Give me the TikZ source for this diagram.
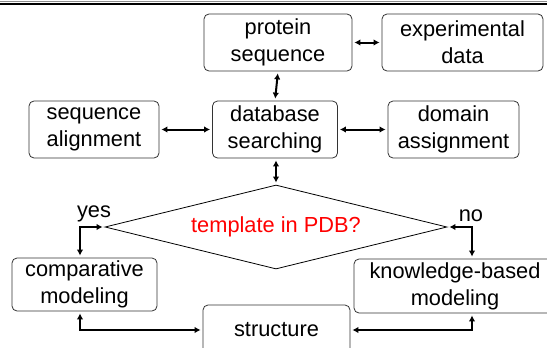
\documentclass[tikz,border=0pt]{standalone}
\usepackage{fontspec}
\setmainfont{Liberation Sans}
\usetikzlibrary{arrows.meta,shapes.geometric}
\begin{document}
\begin{tikzpicture}[x=1pt,y=-1pt,
  txt/.style={font=\fontsize{21.8}{27}\selectfont},
  box/.style={txt, draw=black!80, line width=0.8pt, rounded corners=5pt, align=center, inner sep=0pt},
  conn/.style={line width=2pt, {Latex[length=6pt,width=6.5pt]}-{Latex[length=6pt,width=6.5pt]}, shorten <=2pt, shorten >=2pt},
  lbl/.style={txt, inner sep=0pt}]
\useasboundingbox (0,0) rectangle (547,348);
\draw[black!45, line width=1pt] (0,1.5) -- (547,1.5);
\draw[black, line width=2.5pt] (0,4) -- (547,4);

\node[box, minimum width=148pt, minimum height=57pt] (prot) at (278,42.5) {protein\\sequence};
\node[box, minimum width=161pt, minimum height=57pt] (exp) at (462.5,42.5) {experimental\\data};
\node[box, minimum width=130pt, minimum height=57pt] (sal) at (94,129.5) {sequence\\alignment};
\node[box, minimum width=125pt, minimum height=57pt] (db) at (275,129.5) {database\\searching};
\node[box, minimum width=131pt, minimum height=57pt] (dom) at (453.5,129.5) {domain\\assignment};
\node[draw=black, line width=0.8pt, shape=diamond, shape aspect=4.07, inner sep=0pt,
      minimum width=342pt, minimum height=84pt, txt, text=red] (tpl) at (276,227) {template in PDB?};
\node[box, minimum width=145pt, minimum height=53pt] (comp) at (84.5,284.5) {comparative\\modeling};
\node[box, minimum width=202pt, minimum height=54pt] (kb) at (455,286) {knowledge-based\\modeling};
\node[box, minimum width=147pt, minimum height=50pt] (str) at (276.5,330) {structure};
\node[lbl, anchor=base] (yes) at (94,217.5) {yes};
\node[lbl, anchor=base] (no) at (471,221.5) {no};

\draw[conn] (prot.east) -- (exp.west);
\draw[conn] (prot.south) -- (db.north);
\draw[conn] (sal.east) -- (db.west);
\draw[conn] (db.east) -- (dom.west);
\draw[conn] (db.south -| tpl.north) -- (tpl.north);
\draw[conn] (tpl.west) -| ([xshift=-4.5pt]comp.north);
\draw[conn] (tpl.east) -| ([xshift=17pt]kb.north);
\draw[conn] ([xshift=-4.5pt]comp.south) |- (str.west);
\draw[conn] ([xshift=17pt]kb.south) |- (str.east);
\end{tikzpicture}
\end{document}
